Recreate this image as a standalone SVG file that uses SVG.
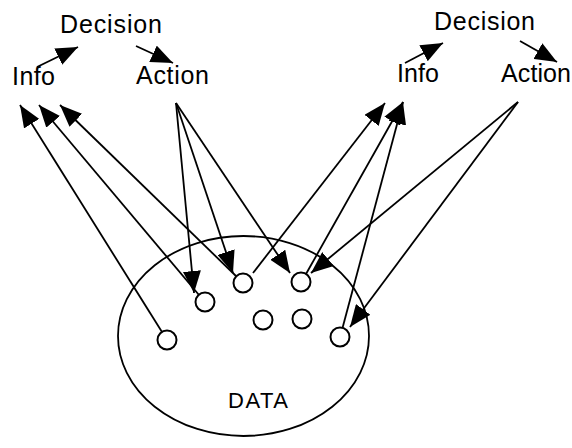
<svg xmlns="http://www.w3.org/2000/svg" width="572" height="448" viewBox="0 0 572 448">
  <style>
    .lbl { font-family: "Liberation Sans", Arial, sans-serif; font-size: 25px; fill: #000; }
    .data { font-family: "Liberation Sans", Arial, sans-serif; font-size: 22px; fill: #000; }
    .edge { stroke: #000; stroke-width: 1.8; fill: none; marker-end: url(#head); }
    .dot { fill: #fff; stroke: #000; stroke-width: 2; }
  </style>
  <defs>
    <marker id="head" markerUnits="userSpaceOnUse" markerWidth="22" markerHeight="18" refX="22" refY="9" orient="auto">
      <path d="M0,0 L22,9 L0,18 Z" fill="#000"/>
    </marker>
  </defs>
  <rect width="572" height="448" fill="#fff"/>

  <!-- left decision cycle -->
  <g id="decision-left"><text class="lbl" x="60" y="33" textLength="102" lengthAdjust="spacing">Decision</text></g>
  <g id="info-left"><text class="lbl" x="12" y="85" textLength="43" lengthAdjust="spacing">Info</text></g>
  <g id="action-left"><text class="lbl" x="136" y="84" textLength="73" lengthAdjust="spacing">Action</text></g>

  <!-- right decision cycle -->
  <g id="decision-right"><text class="lbl" x="434" y="30" textLength="101" lengthAdjust="spacing">Decision</text></g>
  <g id="info-right"><text class="lbl" x="397" y="82" textLength="42" lengthAdjust="spacing">Info</text></g>
  <g id="action-right"><text class="lbl" x="501" y="82" textLength="70" lengthAdjust="spacing">Action</text></g>

  <!-- data store with its items -->
  <g id="data">
    <ellipse cx="243.5" cy="336" rx="125.5" ry="100" fill="none" stroke="#000" stroke-width="1.8"/>
    <text class="data" x="228" y="408" textLength="60" lengthAdjust="spacing">DATA</text>
  </g>
  <g id="item-a"><circle class="dot" cx="167" cy="340" r="9.5"/></g>
  <g id="item-b"><circle class="dot" cx="205" cy="302" r="9.5"/></g>
  <g id="item-c"><circle class="dot" cx="243" cy="283" r="9.5"/></g>
  <g id="item-d"><circle class="dot" cx="301" cy="282" r="9.5"/></g>
  <g id="item-e"><circle class="dot" cx="263" cy="320" r="9.5"/></g>
  <g id="item-f"><circle class="dot" cx="302" cy="319" r="9.5"/></g>
  <g id="item-g"><circle class="dot" cx="340" cy="337" r="9.5"/></g>

  <g id="connectors">
    <!-- info -> decision -> action -->
    <line class="edge" x1="37" y1="67" x2="78" y2="47"/>
    <line class="edge" x1="136" y1="46" x2="173" y2="63"/>
    <line class="edge" x1="405" y1="63" x2="443" y2="43"/>
    <line class="edge" x1="520" y1="41" x2="557" y2="62"/>

    <!-- items read into left info -->
    <line class="edge" x1="162" y1="332" x2="20" y2="105"/>
    <line class="edge" x1="199" y1="295" x2="39" y2="105"/>
    <line class="edge" x1="236" y1="276" x2="60" y2="105"/>

    <!-- left action writes items -->
    <line class="edge" x1="176" y1="103" x2="194" y2="293"/>
    <line class="edge" x1="176" y1="103" x2="233" y2="273"/>
    <line class="edge" x1="176" y1="103" x2="290" y2="273"/>

    <!-- items read into right info -->
    <line class="edge" x1="253" y1="273" x2="385" y2="103"/>
    <line class="edge" x1="306" y1="274" x2="403" y2="102"/>
    <line class="edge" x1="342.5" y1="328" x2="403" y2="102"/>

    <!-- right action writes items -->
    <line class="edge" x1="518" y1="102" x2="311" y2="273"/>
    <line class="edge" x1="518" y1="102" x2="350" y2="327"/>
  </g>
</svg>
